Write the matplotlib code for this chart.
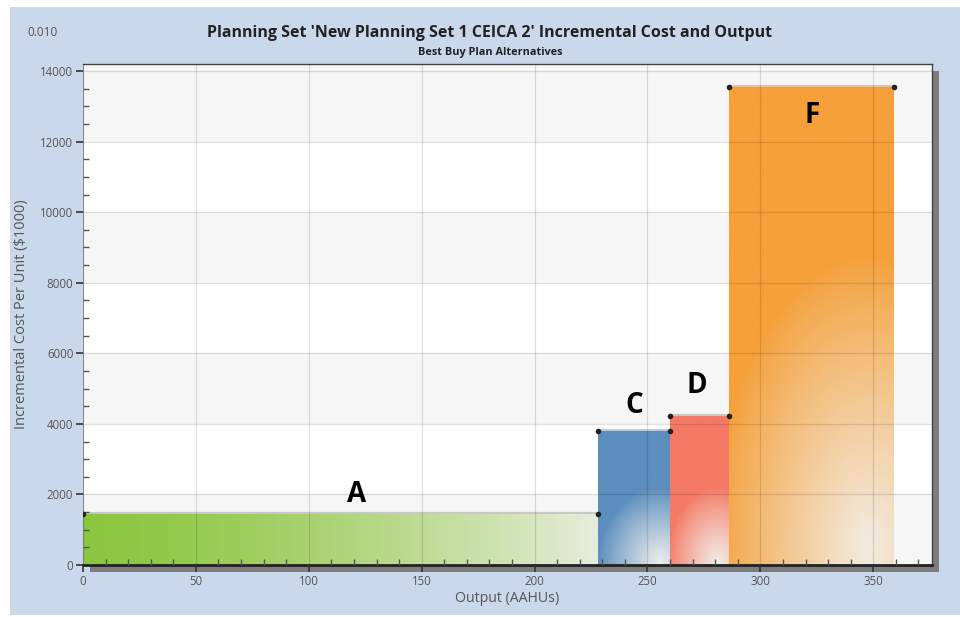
import numpy as np
import matplotlib.pyplot as plt
from matplotlib.patches import Rectangle
from matplotlib.colors import to_rgb
from matplotlib.ticker import MultipleLocator

plt.rcParams['font.family'] = ['Open Sans', 'DejaVu Sans']

# best buy plans: output range (AAHUs) and incremental cost per unit ($1000)
plans = ['A', 'C', 'D', 'F']
output_start = [0, 228, 260, 286]
output_end = [228, 260, 286, 359]
inc_cost = [1450, 3810, 4220, 13540]
bar_colors = ['#8cc63f', '#5b8ebd', '#f47a65', '#f5a03a']

# where the plan letters sit
label_x = [121, 244, 272, 323]
label_y = [2010, 4510, 5080, 12740]

W, H = 960, 617
fig = plt.figure(figsize=(W / 100, H / 100), dpi=100, facecolor='white')

# light blue panel behind the chart
fig.patches.append(Rectangle((10 / W, 1 - 615 / H), 950 / W, (615 - 7) / H,
                             transform=fig.transFigure, facecolor='#c9d9eb',
                             edgecolor='none', zorder=-3))

ax_l, ax_r, ax_t, ax_b = 83, 932, 64, 565
ax = fig.add_axes([ax_l / W, 1 - ax_b / H, (ax_r - ax_l) / W, (ax_b - ax_t) / H])

# drop shadow of the plot frame
fig.patches.append(Rectangle(((ax_l + 7) / W, 1 - (ax_b + 7) / H),
                             (ax_r - ax_l) / W, (ax_b - ax_t) / H,
                             transform=fig.transFigure, facecolor='#7d7d7d',
                             edgecolor='none', zorder=-2))

ax.set_xlim(0, 376)
ax.set_ylim(0, 14200)
ax.set_facecolor('white')

# alternating horizontal bands
for i, y0 in enumerate(range(0, 14000, 2000)):
    if i % 2 == 0:
        ax.axhspan(y0, y0 + 2000, color='#f6f6f6', zorder=0, lw=0)
ax.axhspan(14000, 14200, color='#f6f6f6', zorder=0, lw=0)


def shade(kind, nx=200, ny=200):
    u = np.linspace(0, 1, nx)[None, :]
    v = np.linspace(1, 0, ny)[:, None]
    if kind == 'linear':
        w = 0.88 * u ** 1.4 * np.ones_like(v)
    else:
        cu, cv, ru, rv, s = kind
        d = np.sqrt(((u - cu) / ru) ** 2 + ((v - cv) / rv) ** 2)
        w = s * np.clip(1 - d, 0, 1) ** 0.9
    return w


glows = ['linear',
         (0.85, 0.02, 0.85, 0.55, 0.95),
         (0.8, 0.02, 0.85, 0.5, 0.95),
         (0.85, 0.03, 0.95, 0.62, 0.93)]

for x0, x1, h, c, g in zip(output_start, output_end, inc_cost, bar_colors, glows):
    ax.hlines(h, x0, x1, colors='#c8c8c8', lw=3, zorder=1.5)
    bar = ax.bar(x0, h, width=x1 - x0, align='edge', color=c, lw=0, zorder=2)[0]
    w = shade(g)[..., None]
    img = (1 - w) * np.array(to_rgb(c)) + w * np.array([0.95, 0.95, 0.94])
    im = ax.imshow(img, extent=(x0, x1, 0, h), aspect='auto', zorder=2.1,
                   interpolation='bilinear')
    im.set_clip_path(bar)
    ax.plot([x0, x1], [h, h], ls='none', marker='o', ms=3, color='#222222', zorder=4)

for p, lx, ly in zip(plans, label_x, label_y):
    ax.text(lx, ly, p, ha='center', va='center', fontsize=20,
            fontweight='bold', color='black', zorder=5)

ax.set_xlim(0, 376)
ax.set_ylim(0, 14200)

# grid
ax.xaxis.set_major_locator(MultipleLocator(50))
ax.xaxis.set_minor_locator(MultipleLocator(10))
ax.yaxis.set_major_locator(MultipleLocator(2000))
ax.yaxis.set_minor_locator(MultipleLocator(500))
ax.grid(True, which='major', color='black', alpha=0.12, lw=0.9, zorder=3)
ax.set_axisbelow(False)

ax.tick_params(axis='both', which='major', direction='out', length=5, width=1.2,
               color='#333333', labelcolor='#555555', labelsize=8.3, pad=2)
ax.tick_params(axis='both', which='minor', direction='in', length=4, width=1,
               color='#555555')

for side in ['top', 'right']:
    ax.spines[side].set_color('#444444')
    ax.spines[side].set_linewidth(1)
ax.spines['left'].set_color('#888888')
ax.spines['left'].set_linewidth(0.6)
ax.spines['bottom'].set_color('#222222')
ax.spines['bottom'].set_linewidth(2)

ax.set_xlabel('Output (AAHUs)', fontsize=10.2, color='#555555', labelpad=2)
ax.set_ylabel('Incremental Cost Per Unit ($1000)', fontsize=10.5, color='#555555',
              labelpad=8)

fig.text(490 / W, 1 - 33 / H,
         "Planning Set 'New Planning Set 1 CEICA 2' Incremental Cost and Output",
         ha='center', va='center', fontsize=11.5, fontweight='bold', color='#222222')
fig.text(490 / W, 1 - 53 / H, 'Best Buy Plan Alternatives', ha='center',
         va='center', fontsize=7.8, fontweight='bold', color='#222222')
fig.text(43 / W, 1 - 33 / H, '0.010', ha='center', va='center', fontsize=8.5,
         color='#555555')

fig.savefig('out.png', dpi=100, facecolor='white')
